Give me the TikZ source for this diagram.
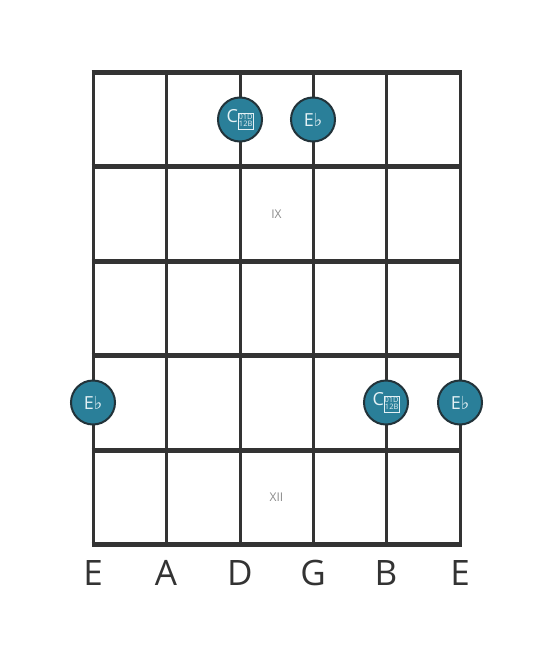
\documentclass[tikz,border=0pt]{standalone}
\usepackage{fontspec}
\setmainfont{Open Sans}
\newfontfamily\symfont{DejaVu Sans}
\definecolor{gridgray}{HTML}{333333}
\definecolor{noteteal}{HTML}{2A7F99}
\definecolor{noteedge}{HTML}{22333A}
\definecolor{notetext}{HTML}{E4F1F5}
\definecolor{numgray}{HTML}{8A8A8A}
\newcommand\glyphbox{{\setlength\fboxsep{0.3pt}\setlength\fboxrule{0.5pt}%
  \raisebox{-1pt}{\fbox{\fontsize{7.5}{6.5}\selectfont\begin{tabular}{@{}c@{}}01D\\12B\end{tabular}}}}}
\newcommand\flatsign{{\symfont\char"266D}}
\begin{document}
\begin{tikzpicture}[x=1pt,y=-1pt,
  fret/.style={line width=5pt,draw=gridgray},
  gstring/.style={line width=3pt,draw=gridgray},
  note/.style={circle,draw=noteedge,line width=2pt,fill=noteteal,minimum size=44pt,
    inner sep=0pt,text=notetext,font=\fontsize{18}{18}\selectfont},
  fretnum/.style={text=numgray,font=\fontsize{12}{12}\selectfont},
  strname/.style={text=gridgray,font=\fontsize{35}{35}\selectfont}]
\useasboundingbox (0,0) rectangle (553,656);

% strings
\coordinate (E1) at (93,72);
\coordinate (A) at (166,72);
\coordinate (D) at (240,72);
\coordinate (G) at (313,72);
\coordinate (B) at (386,72);
\coordinate (E2) at (460,72);

\draw[gstring] (E1) -- (93,544);
\draw[gstring] (A) -- (166,544);
\draw[gstring] (D) -- (240,544);
\draw[gstring] (G) -- (313,544);
\draw[gstring] (B) -- (386,544);
\draw[gstring] (E2) -- (460,544);

% frets
\draw[fret] (91.5,72) -- (461.5,72);
\draw[fret] (91.5,166.5) -- (461.5,166.5);
\draw[fret] (91.5,261) -- (461.5,261);
\draw[fret] (91.5,355.5) -- (461.5,355.5);
\draw[fret] (91.5,450) -- (461.5,450);
\draw[fret] (91.5,544) -- (461.5,544);

% fret numbers
\node[fretnum] (IX) at (276.5,214) {IX};
\node[fretnum] (XII) at (276.5,497) {XII};

% notes
\node[note] (C9) at (240,119.5) {C\glyphbox};
\node[note] (Eb9) at (313,119.5) {E\flatsign};
\node[note] (Eb12a) at (93,402.5) {E\flatsign};
\node[note] (C12) at (386,402.5) {C\glyphbox};
\node[note] (Eb12b) at (460,402.5) {E\flatsign};

% string names
\node[strname] (nE1) at (93,573) {E};
\node[strname] (nA) at (166,573) {A};
\node[strname] (nD) at (240,573) {D};
\node[strname] (nG) at (313,573) {G};
\node[strname] (nB) at (386,573) {B};
\node[strname] (nE2) at (460,573) {E};

\end{tikzpicture}
\end{document}
